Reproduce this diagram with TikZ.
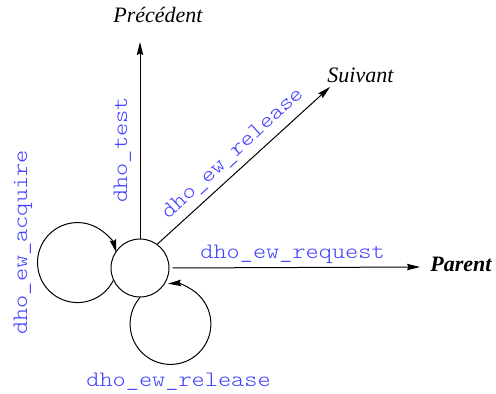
\documentclass[tikz,border=0pt]{standalone}
\usepackage{fontspec}
\setmainfont{Liberation Serif}
\newfontfamily\codefont[FakeStretch=1.14]{lmmonolt10-regular.otf}
\usetikzlibrary{arrows.meta}
\definecolor{codeblue}{RGB}{64,64,255}
\begin{document}
\begin{tikzpicture}[x=0.5pt,y=0.5pt,
  arr/.style={line width=0.5pt,-{Stealth[length=6.5pt,width=3.2pt,inset=0.8pt]}},
  state/.style={draw,circle,line width=0.5pt,minimum size=29pt,inner sep=0pt},
  code/.style={font=\codefont\fontsize{11}{13}\selectfont,text=codeblue,inner sep=0pt},
  dest/.style={font=\fontsize{11}{13}\selectfont\itshape,inner sep=0pt}]
\useasboundingbox (0,0) rectangle (496,393);
\node[state] (c) at (140,125) {};
\coordinate (prec) at (140,351);
\coordinate (suiv) at (330,306);
\coordinate (par) at (420,126);
\node[dest,anchor=base west] (tprec) at (113,371) {Précédent};
\node[dest,anchor=base west] (tsuiv) at (327,311) {Suivant};
\node[dest,font=\fontsize{11}{13}\selectfont\bfseries\itshape,anchor=base west] (tpar) at (430,122) {Parent};
\draw[arr] (c.north) -- (prec);
\draw[arr] (c.54) -- (suiv);
\draw[arr,shorten <=1.5pt] (c.east) -- (par);
\draw[arr] (c.205) arc[start angle=-26.6, end angle=-345.3, radius=20pt];
\draw[arr] (c.south) arc[start angle=139, end angle=453.5, radius=20.2pt];
\node[code,anchor=base west,rotate=90] (ltest) at (127,190) {dho\_test};
\node[code,anchor=base west,rotate=42.5] (lrel1) at (168,173) {dho\_ew\_release};
\node[code,anchor=base west] (lreq) at (200,135) {dho\_ew\_request};
\node[code,anchor=base west,rotate=90] (lacq) at (27,58) {dho\_ew\_acquire};
\node[code,anchor=base west] (lrel2) at (86,7) {dho\_ew\_release};
\end{tikzpicture}
\end{document}
